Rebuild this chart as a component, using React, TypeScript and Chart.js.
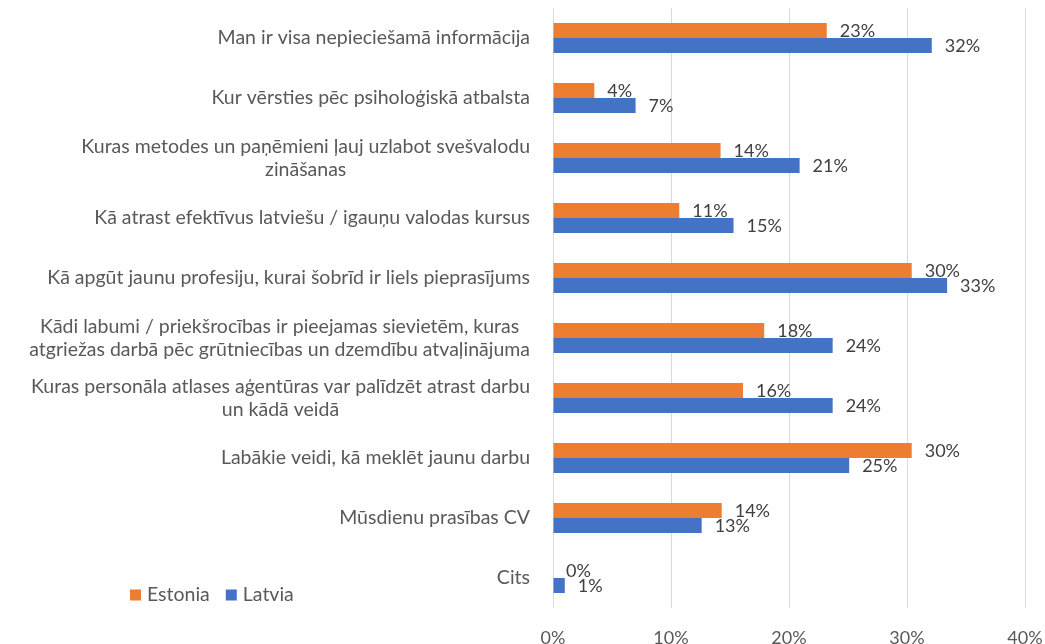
import React, { useEffect, useRef } from "react";
import { Chart, registerables } from "chart.js";

Chart.register(...registerables);

const categories: (string | string[])[] = [
  "Man ir visa nepieciešamā informācija",
  "Kur vērsties pēc psiholoģiskā atbalsta",
  ["Kuras metodes un paņēmieni ļauj uzlabot svešvalodu", "zināšanas"],
  "Kā atrast efektīvus latviešu / igauņu valodas kursus",
  "Kā apgūt jaunu profesiju, kurai šobrīd ir liels pieprasījums",
  ["Kādi labumi / priekšrocības ir pieejamas sievietēm, kuras", "atgriežas darbā pēc grūtniecības un dzemdību atvaļinājuma"],
  ["Kuras personāla atlases aģentūras var palīdzēt atrast darbu", "un kādā veidā"],
  "Labākie veidi, kā meklēt jaunu darbu",
  "Mūsdienu prasības CV",
  "Cits",
];

const seriesNames = ["Estonia", "Latvia"];
const estonia = [23.2, 3.5, 14.2, 10.7, 30.4, 17.9, 16.1, 30.4, 14.3, 0];
const latvia = [32.1, 7.0, 20.9, 15.3, 33.4, 23.7, 23.7, 25.1, 12.6, 1.0];
const seriesColors = ["#ED7D31", "#4472C4"];
const xTicks = [0, 10, 20, 30, 40];

const FONT = "Lato, 'Liberation Sans', sans-serif";
const TEXT = "#595959";

const categoryLabelPlugin = {
  id: "categoryLabels",
  afterDraw(chart: any) {
    const ctx = chart.ctx;
    const yScale = chart.scales.y;
    const right = chart.chartArea.left - 23;
    const lineH = 23;
    ctx.save();
    ctx.font = `19.5px ${FONT}`;
    ctx.fillStyle = TEXT;
    ctx.textBaseline = "middle";
    ctx.textAlign = "center";
    categories.forEach((lab, i) => {
      const lines = Array.isArray(lab) ? lab : [lab];
      const maxW = Math.max(...lines.map((l) => ctx.measureText(l).width));
      const cx = right - maxW / 2;
      const cy = yScale.getPixelForValue(i);
      lines.forEach((l, j) => {
        ctx.fillText(l, cx, cy + (j - (lines.length - 1) / 2) * lineH);
      });
    });
    ctx.restore();
  },
};

const dataLabelPlugin = {
  id: "dataLabels",
  afterDatasetsDraw(chart: any) {
    const ctx = chart.ctx;
    ctx.save();
    ctx.font = `18px ${FONT}`;
    ctx.fillStyle = "#404040";
    ctx.textBaseline = "middle";
    ctx.textAlign = "left";
    chart.data.datasets.forEach((ds: any, di: number) => {
      const meta = chart.getDatasetMeta(di);
      meta.data.forEach((bar: any, i: number) => {
        const v = ds.data[i];
        ctx.fillText(Math.round(v) + "%", bar.x + 13, bar.y + 1);
      });
    });
    ctx.restore();
  },
};

const legendPlugin = {
  id: "customLegend",
  afterDraw(chart: any) {
    const ctx = chart.ctx;
    ctx.save();
    ctx.font = `19.5px ${FONT}`;
    ctx.textBaseline = "middle";
    ctx.textAlign = "left";
    let x = 130;
    const y = 595;
    seriesNames.forEach((name, i) => {
      ctx.fillStyle = seriesColors[i];
      ctx.fillRect(x, y - 5.5, 11, 11);
      ctx.fillStyle = TEXT;
      ctx.fillText(name, x + 17, y);
      x += 17 + ctx.measureText(name).width + 16;
    });
    ctx.restore();
  },
};

export default function App() {
  const ref = useRef<HTMLCanvasElement>(null);
  useEffect(() => {
    if (!ref.current) return;
    const chart = new Chart(ref.current, {
      type: "bar",
      data: {
        labels: categories.map((c) => (Array.isArray(c) ? c.join(" ") : c)),
        datasets: [
          {
            label: seriesNames[0],
            data: estonia,
            backgroundColor: seriesColors[0],
            categoryPercentage: 0.5,
            barPercentage: 1,
          },
          {
            label: seriesNames[1],
            data: latvia,
            backgroundColor: seriesColors[1],
            categoryPercentage: 0.5,
            barPercentage: 1,
          },
        ],
      },
      options: {
        indexAxis: "y",
        animation: false,
        responsive: false,
        maintainAspectRatio: false,
        layout: { padding: { top: 8, right: 20, left: 0, bottom: 0 } },
        plugins: {
          legend: { display: false },
          tooltip: { enabled: false },
        },
        scales: {
          x: {
            position: "bottom",
            min: 0,
            max: 40,
            afterBuildTicks(scale: any) {
              scale.ticks = xTicks.map((v) => ({ value: v }));
            },
            afterFit(scale: any) {
              scale.height = 36;
              scale.paddingLeft = 0;
              scale.paddingRight = 0;
            },
            grid: { color: "#d9d9d9", lineWidth: 1, drawTicks: false },
            border: { display: false },
            ticks: {
              padding: 19,
              color: TEXT,
              font: { family: FONT, size: 18 },
              callback: (v: any) => v + "%",
            },
          },
          y: {
            afterFit(scale: any) {
              scale.width = 553;
            },
            grid: { display: false },
            border: { display: false },
            ticks: { display: false },
          },
        },
      },
      plugins: [categoryLabelPlugin, dataLabelPlugin, legendPlugin],
    });
    return () => chart.destroy();
  }, []);
  return (
    <div style={{ position: "fixed", left: 0, top: 0, width: 1045, height: 644, background: "#fff" }}>
      <canvas ref={ref} width={1045} height={644} />
    </div>
  );
}
